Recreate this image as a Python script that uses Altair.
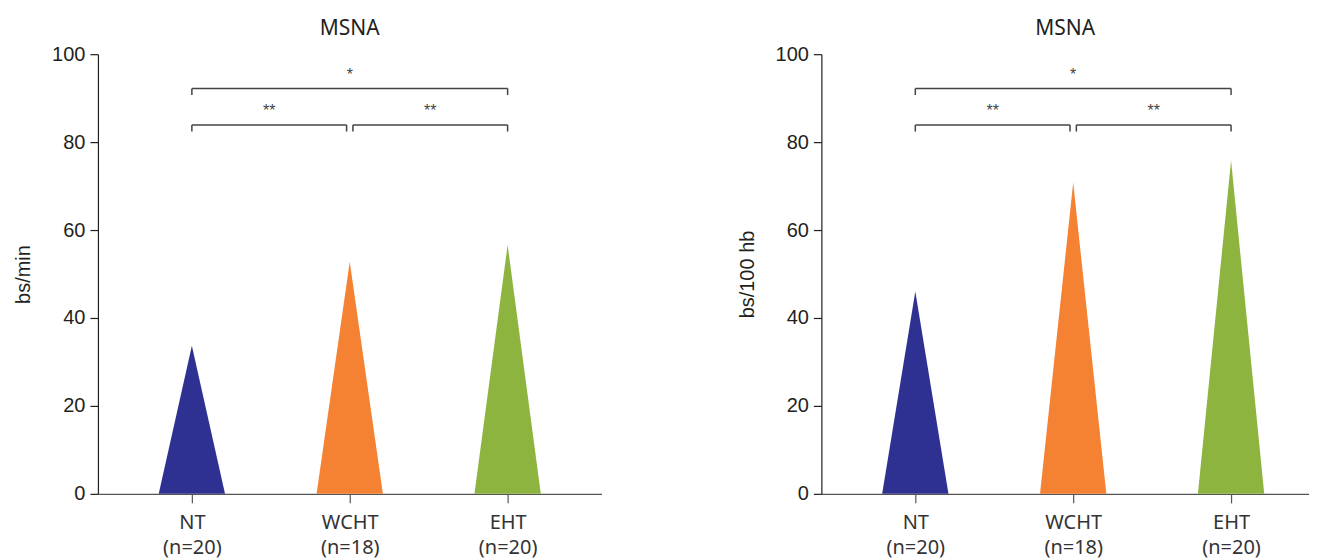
import altair as alt
import pandas as pd

# ---- data ----
categories = ["NT", "WCHT", "EHT"]
n_labels = ["(n=20)", "(n=18)", "(n=20)"]
colors = ["#2E3192", "#F58233", "#8DB43E"]
msna_bs_min = [33.7, 52.8, 56.6]
msna_bs_100hb = [46.0, 70.8, 75.8]

# significance annotations: (from, to, level, label)
brackets = [
    (1, 3, 92.2, "*"),
    (1, 1.98, 83.9, "**"),
    (2.02, 3, 83.9, "**"),
]

HALF = 0.21          # half-width of triangle base (x units)
DROP = 1.5           # bracket end drop (y units)
STAR_GAP = 2.0       # star label above bracket (y units)
STEP_PX = 158.0
X0 = 0.405


def triangle_df(values):
    rows = []
    for i, (c, v) in enumerate(zip(categories, values)):
        xc = i + 1
        rows += [
            {"cat": c, "x": xc - HALF, "y": 0},
            {"cat": c, "x": xc, "y": v},
            {"cat": c, "x": xc + HALF, "y": 0},
        ]
    return pd.DataFrame(rows)


def bracket_dfs():
    h, v, t = [], [], []
    for a, b, lvl, lab in brackets:
        h.append({"x": a, "x2": b, "y": lvl})
        v.append({"x": a, "y": lvl, "y2": lvl - DROP})
        v.append({"x": b, "y": lvl, "y2": lvl - DROP})
        t.append({"x": (a + b) / 2, "y": lvl + STAR_GAP, "t": lab})
    return pd.DataFrame(h), pd.DataFrame(v), pd.DataFrame(t)


label_expr = " : ".join(
    f"datum.value == {i+1} ? ['{c}', '{n}']" for i, (c, n) in enumerate(zip(categories, n_labels))
) + " : ''"


def panel(values, ytitle, width):
    df = triangle_df(values)
    xs = alt.Scale(domain=[X0, X0 + width / STEP_PX], nice=False, zero=False)
    ys = alt.Scale(domain=[0, 100], nice=False)
    tri = alt.Chart(df).mark_area(opacity=1, interpolate="linear").encode(
        x=alt.X("x:Q", scale=xs, axis=alt.Axis(
            values=[1, 2, 3], labelExpr=label_expr, title=None, grid=False,
            labelFont="Noto Sans", labelFontSize=20, labelColor="#333333",
            labelLineHeight=25, tickSize=9, labelPadding=10,
            domainColor="#555555", tickColor="#555555", domainWidth=1.2, tickWidth=1.2,
            labelFlush=False, labelOverlap=False)),
        y=alt.Y("y:Q", scale=ys, stack=None, axis=alt.Axis(
            values=[0, 20, 40, 60, 80, 100], title=ytitle, grid=False,
            labelFont="Liberation Sans", labelFontSize=20, labelColor="#231F20",
            titleFont="Liberation Sans", titleFontSize=20, titleFontWeight="normal",
            titleColor="#231F20", titlePadding=18, tickSize=8, labelPadding=5,
            domainColor="#231F20", tickColor="#231F20", domainWidth=1.2, tickWidth=1.2)),
        color=alt.Color("cat:N", scale=alt.Scale(domain=categories, range=colors), legend=None),
        detail="cat:N",
    )
    h, v, t = bracket_dfs()
    hr = alt.Chart(h).mark_rule(color="#444444", strokeWidth=1.5).encode(
        x=alt.X("x:Q", scale=xs), x2="x2:Q", y=alt.Y("y:Q", scale=ys))
    vr = alt.Chart(v).mark_rule(color="#444444", strokeWidth=1.5).encode(
        x=alt.X("x:Q", scale=xs), y=alt.Y("y:Q", scale=ys), y2="y2:Q")
    tx = alt.Chart(t).mark_text(color="#444444", font="Liberation Sans", fontSize=16,
                                baseline="alphabetic").encode(
        x=alt.X("x:Q", scale=xs), y=alt.Y("y:Q", scale=ys), text="t:N")
    return alt.layer(tri, hr, vr, tx).properties(
        width=width, height=440,
        title=alt.TitleParams("MSNA", font="Noto Sans", fontSize=21, fontWeight="normal",
                              color="#231F20", offset=5, anchor="middle"))


chart = alt.hconcat(
    panel(msna_bs_min, "bs/min", 504),
    panel(msna_bs_100hb, "bs/100 hb", 488),
    spacing=135,
).properties(
    background="white",
    padding={"left": 5, "top": 10, "right": 0, "bottom": 15},
).configure_view(stroke=None)

chart.save("out.html", embed_options={"renderer": "svg", "actions": False})
